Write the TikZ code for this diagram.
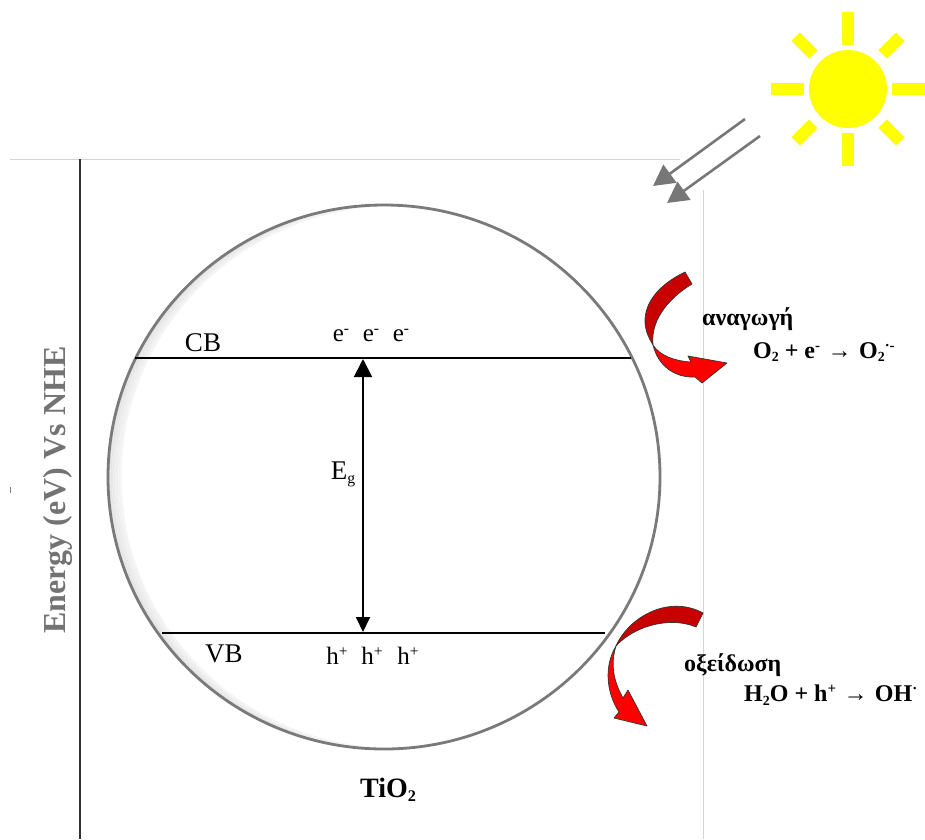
\documentclass[tikz,border=0pt]{standalone}
\usepackage{fontspec}
\setmainfont{Liberation Serif}
\usepackage{xcolor}
\usetikzlibrary{arrows.meta, positioning, calc}
\definecolor{rimgray}{HTML}{7A7A7A}
\definecolor{beamgray}{HTML}{777777}
\definecolor{framegray}{HTML}{D4D4D4}
\definecolor{darkred}{HTML}{C80000}
\definecolor{sunyellow}{HTML}{FFFF00}
\newcommand{\lowsup}[1]{\raisebox{0.32em}{\scalebox{0.62}{#1}}}
\newcommand{\lowsub}[1]{\raisebox{-0.16em}{\scalebox{0.58}{#1}}}
\newcommand{\yields}{\kern1.5pt→\kern1.5pt}
\tikzset{
    bandline/.style={draw=black, line width=1.8pt},
    sunray/.style={draw=sunyellow, line width=12pt, line cap=round},
    beam/.style={draw=beamgray, line width=2.6pt, -{Triangle[length=21pt,width=22pt]}},
    redband/.style={fill=darkred, draw=black!80, line width=0.7pt, line join=round},
    redhead/.style={fill=red, draw=black!80, line width=0.7pt, line join=round},
    lbl/.style={inner sep=0pt, font=\fontsize{27}{30}\selectfont},
    small/.style={inner sep=0pt, font=\fontsize{25}{28}\selectfont},
    react/.style={inner sep=0pt, anchor=west, font=\bfseries\fontsize{24}{26}\selectfont}
}
\begin{document}
\begin{tikzpicture}[x=1pt, y=-1pt]
    \useasboundingbox (0,0) rectangle (925,839);
    % frame
    \coordinate (ftl) at (10,159);
    \coordinate (ftr) at (680,159);
    \coordinate (frt) at (703,190);
    \coordinate (frb) at (703,839);
    \coordinate (axt) at (80,159);
    \coordinate (axb) at (80,839);
    \coordinate (tka) at (10,487);
    \coordinate (tkb) at (10,493);
    \draw[framegray, line width=0.8pt] (ftl) -- (ftr);
    \draw[framegray, line width=0.8pt] (frt) -- (frb);
    \draw[black!80, line width=1.8pt] (axt) -- (axb);
    \draw[gray, line width=0.8pt] (tka) -- (tkb);
    \node[inner sep=0pt, rotate=90, text=black!55, font=\bfseries\fontsize{32}{34}\selectfont] (axis) at (58,490) {Energy (eV) Vs NHE};

    % particle
    \begin{scope}
        \clip (384,477) ellipse [x radius=276, y radius=272];
        \foreach \i in {1,...,8} {
            \pgfmathsetmacro\shade{12-\i}
            \draw[black!\shade, line width=1.5pt] (384+\i*1.6,477) ellipse [x radius=276, y radius=272];
        }
    \end{scope}
    \draw[fill=none, draw=rimgray, line width=2.8pt] (384,477) ellipse [x radius=276, y radius=272];

    % bands
    \coordinate (cbl) at (135,358);
    \coordinate (cbr) at (631,358);
    \coordinate (vbl) at (162,633);
    \coordinate (vbr) at (605,633);
    \coordinate (cbm) at (363,359);
    \coordinate (vbm) at (363,632);
    \draw[bandline] (cbl) -- (cbr);
    \draw[bandline] (vbl) -- (vbr);
    \draw[black, line width=1.8pt, {Triangle[length=18pt,width=18pt]}-{Triangle[length=15pt,width=14pt]}] (cbm) -- (vbm);
    \node[lbl] (cb) at (203,343) {CB};
    \node[lbl] (vb) at (224,654) {VB};
    \node[lbl] (eg) at (343,474) {E\lowsub{g}};
    \foreach \x/\n in {341/1,371/2,401/3} {
        \node[small] (el\n) at (\x,335) {e\lowsup{-}};
    }
    \foreach \x/\n in {337/1,372/2,408/3} {
        \node[small] (ho\n) at (\x,656) {h\lowsup{+}};
    }
    \node[inner sep=0pt, font=\bfseries\fontsize{28}{30}\selectfont] (tio) at (388,790) {TiO\lowsub{2}};

    % sun
    \fill[sunyellow] (848,89) circle (39);
    \foreach \a in {0,90,180,270} {
        \draw[sunray, line cap=butt] ($(848,89)+(\a:44)$) -- ($(848,89)+(\a:77)$);
    }
    \foreach \a in {45,135,225,315} {
        \draw[sunray, line cap=butt] ($(848,89)+(\a:49)$) -- ($(848,89)+(\a:74)$);
    }
    \coordinate (bma) at (745,119);
    \coordinate (bmb) at (653,186);
    \coordinate (bmc) at (760,136);
    \coordinate (bmd) at (667,203);
    \draw[beam] (bma) -- (bmb);
    \draw[beam] (bmc) -- (bmd);

    % reduction arrow
    \draw[redband] (685,272) -- (692,284) .. controls (672,296) and (650,318) .. (653,345)
        .. controls (649,338) and (646,333) .. (645,323) .. controls (644,302) and (660,284) .. (685,272) -- cycle;
    \draw[redhead] (653,345) .. controls (660,356) and (675,361) .. (691,362) -- (688,356) -- (727,363) -- (702,383) -- (695,377)
        .. controls (675,378) and (658,366) .. (653,345) -- cycle;
    \node[react] (red) at (702,319) {αναγωγή};
    \node[react] (redeq) at (753,352) {O\lowsub{2} + e\lowsup{-} \yields{} O\lowsub{2}\lowsup{·-}};

    % oxidation arrow
    \draw[redband] (703,613) -- (696,627) .. controls (670,616) and (634,626) .. (616,646)
        .. controls (628,618) and (668,594) .. (703,613) -- cycle;
    \draw[redhead] (616,646) .. controls (610,665) and (614,682) .. (623,698) -- (628,690) -- (647,726) -- (614,718) -- (619,712)
        .. controls (606,692) and (604,666) .. (616,646) -- cycle;
    \node[react] (oxi) at (684,665) {οξείδωση};
    \node[react] (oxieq) at (744,695) {H\lowsub{2}O + h\lowsup{+} \yields{} OH\lowsup{·}};
\end{tikzpicture}
\end{document}
